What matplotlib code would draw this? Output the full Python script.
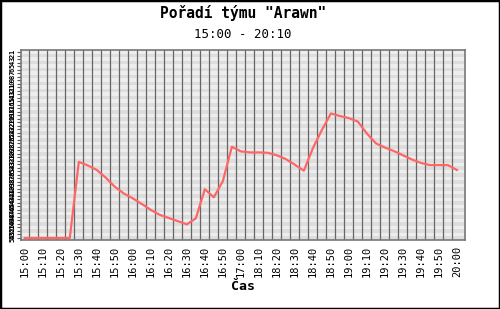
import matplotlib
matplotlib.use("Agg")
import matplotlib.pyplot as plt
from matplotlib.patches import Rectangle

# sample times (5 min step, break between 17:00 and 18:10)
times = ["15:00", "15:05", "15:10", "15:15", "15:20", "15:25", "15:30", "15:35",
         "15:40", "15:45", "15:50", "15:55", "16:00", "16:05", "16:10", "16:15",
         "16:20", "16:25", "16:30", "16:35", "16:40", "16:45", "16:50", "16:55",
         "17:00", "18:05", "18:10", "18:15", "18:20", "18:25", "18:30", "18:35",
         "18:40", "18:45", "18:50", "18:55", "19:00", "19:05", "19:10", "19:15",
         "19:20", "19:25", "19:30", "19:35", "19:40", "19:45", "19:50", "19:55",
         "20:00"]
rank = [54, 54, 54, 54, 54, 54, 32.3, 33.3, 34.6, 36.8, 39.4, 41.3, 42.7, 44.3,
        46.0, 47.4, 48.3, 49.2, 50.1, 48.4, 40.1, 42.4, 37.8, 28.0, 29.3, 29.6,
        29.6, 29.7, 30.4, 31.5, 33.1, 34.8, 28.4, 23.2, 18.5, 19.2, 19.8, 20.8,
        24.2, 27.0, 28.2, 29.2, 30.4, 31.6, 32.6, 33.2, 33.2, 33.2, 34.6]
tick_labels = times[0::2]
n_teams = 54

mono = "DejaVu Sans Mono"

fig = plt.figure(figsize=(5, 3.09), dpi=100, facecolor="white")
fig.patches.append(Rectangle((0, 0), 1, 1, transform=fig.transFigure, fill=False,
                             edgecolor="black", linewidth=2.5, zorder=10))
ax = fig.add_axes([0.042, 0.223, 0.888, 0.615])

x = list(range(len(times)))

# horizontal stripes
for r in range(1, n_teams + 1):
    ax.axhspan(r - 0.5, r + 0.5, color="#eeeeee" if r % 2 else "#dddddd",
               linewidth=0, zorder=0)

# vertical grid between samples
for g in range(len(times) - 1):
    ax.axvline(g + 0.5, color="#666666", linewidth=0.9, zorder=1)

ax.plot(x, rank, color="#ff6666", linewidth=1.6, zorder=3)

ax.set_xlim(-0.42, len(times) - 0.1)
ax.set_ylim(n_teams + 0.6, 0.4)

ax.set_xticks(x[0::2])
ax.set_xticklabels(tick_labels, rotation=90, fontsize=7.5, family=mono)
ax.tick_params(axis="x", length=0, pad=4)

ax.set_yticks(range(1, n_teams + 1))
ax.set_yticklabels([str(r) for r in range(1, n_teams + 1)], rotation=90,
                   fontsize=5, family=mono, fontweight="bold", va="center")
ax.tick_params(axis="y", length=3, width=0.8, color="#555555", pad=1)

for s in ax.spines.values():
    s.set_color("#777777")
    s.set_linewidth(1.2)

ax.set_xlabel("Čas", family=mono, fontweight="bold", fontsize=9.5, labelpad=2)

ax.text(0.5, 0.167 + 1, 'Pořadí týmu "Arawn"', transform=ax.transAxes,
        ha="center", va="baseline", family=mono, fontweight="bold", fontsize=10.5)
ax.text(0.5, 0.062 + 1, "15:00 - 20:10", transform=ax.transAxes, ha="center",
        va="baseline", family=mono, fontsize=9)

fig.savefig("out.png", dpi=100)
